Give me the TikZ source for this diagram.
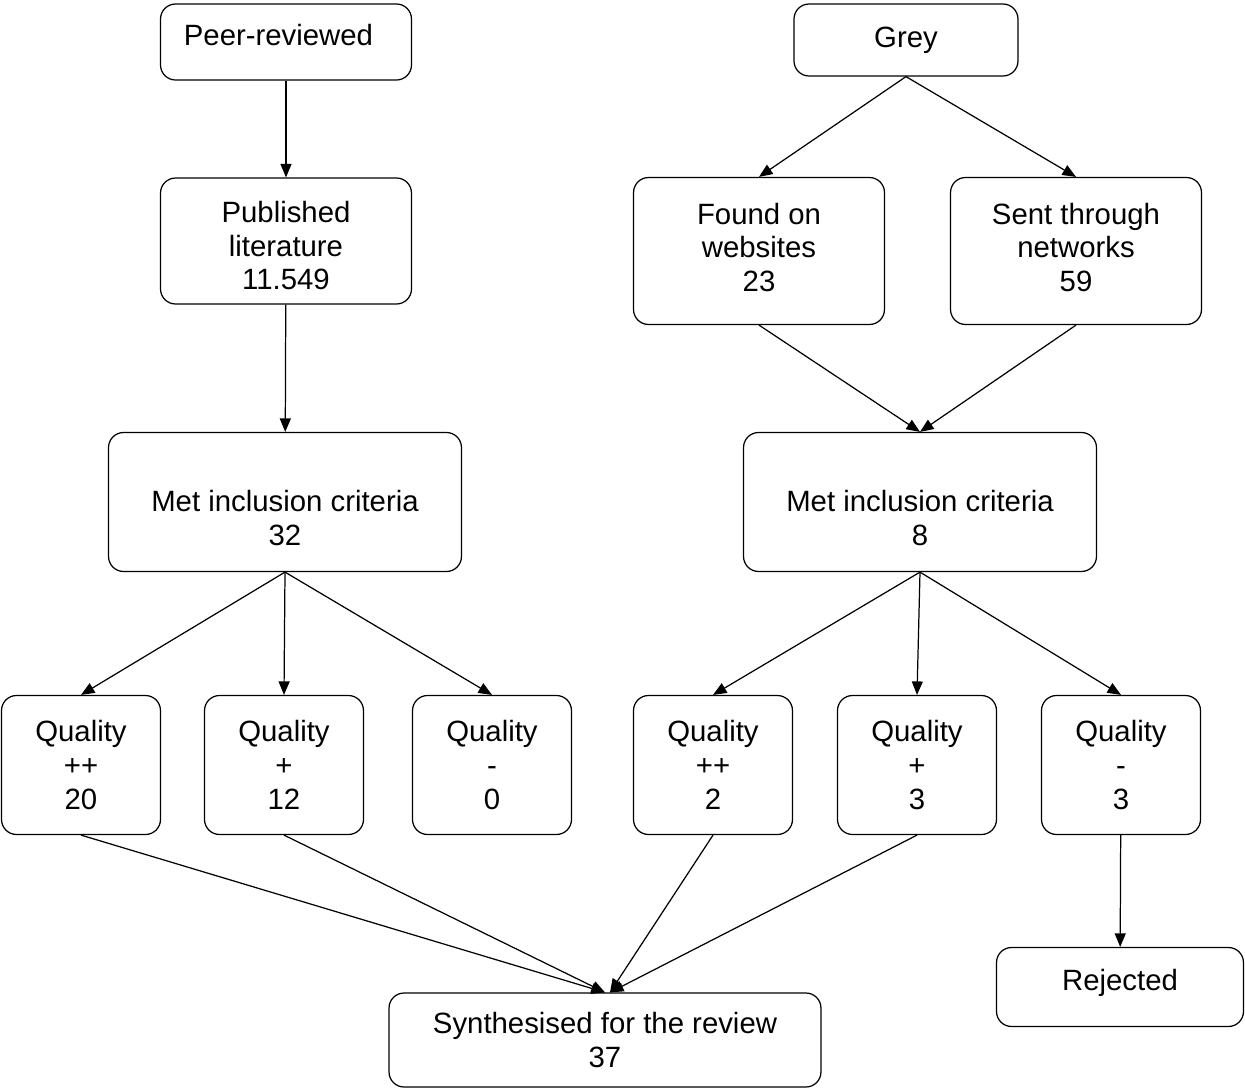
\documentclass[tikz,border=0pt]{standalone}
\usepackage{fontspec}
\setmainfont{Liberation Sans}
\usetikzlibrary{arrows.meta}

\begin{document}
\begin{tikzpicture}[x=0.02cm,y=-0.02cm,->,>={Triangle[length=0.27cm,width=0.22cm]},
	line width=0.7pt,
	base node/.style={rectangle,draw,rounded corners=0.3cm,align=center,inner sep=0pt,
		font=\fontsize{16.7}{19.2}\selectfont},
	quality node/.style={base node,minimum width=3.18cm,minimum height=2.78cm}]
	
	\useasboundingbox (0,0) rectangle (1245,1089);
	% peer-reviewed
	\node[base node,minimum width=5.02cm,minimum height=1.52cm] (peer) at (286,42) {\raisebox{-0.06cm}[0pt][0pt]{Peer-reviewed\hspace{0.3cm}}};
	\node[base node,minimum width=5.02cm,minimum height=2.52cm] (pub) at (286,241) {\raisebox{-0.32cm}[0pt][0pt]{\begin{tabular}{@{}c@{}}Published\\literature\\11.549\end{tabular}}};
	\node[base node,minimum width=7.06cm,minimum height=2.78cm] (met32) at (285,502) {\phantom{M}\\Met inclusion criteria\\32};
	\node[quality node] (q20) at (81,765) {Quality\\++\\20};
	\node[quality node] (q12) at (284,765) {Quality\\+\\12};
	\node[quality node] (q0) at (492,765) {Quality\\-\\0};
	% grey
	\node[base node,minimum width=4.48cm,minimum height=1.44cm] (grey) at (906,40) {Grey};
	\node[base node,minimum width=5.02cm,minimum height=2.94cm] (web) at (759,251) {\raisebox{0.09cm}{\begin{tabular}{@{}c@{}}Found on\\websites\\23\end{tabular}}};
	\node[base node,minimum width=5.02cm,minimum height=2.94cm] (net) at (1076,251) {\raisebox{0.09cm}{\begin{tabular}{@{}c@{}}Sent through\\networks\\59\end{tabular}}};
	\node[base node,minimum width=7.06cm,minimum height=2.78cm] (met8) at (920,502) {\phantom{M}\\Met inclusion criteria\\8};
	\node[quality node] (q2) at (713,765) {Quality\\++\\2};
	\node[quality node] (q3) at (917,765) {Quality\\+\\3};
	\node[quality node] (qm3) at (1121,765) {Quality\\-\\3};
	\node[base node,minimum width=4.94cm,minimum height=1.58cm] (rej) at (1120,987) {\raisebox{-0.06cm}[0pt][0pt]{Rejected}};
	\node[base node,minimum width=8.64cm,minimum height=1.88cm] (synth) at (605,1040) {Synthesised for the review\\37};
	
	\path
	(peer) edge (pub)
	(pub) edge (met32)
	(met32.south) edge (q20.north)
	              edge (q12.north)
	              edge (q0.north)
	(grey.south) edge (web.north)
	             edge (net.north)
	(web.south) edge (met8.north)
	(net.south) edge (met8.north)
	(met8.south) edge (q2.north)
	             edge (q3.north)
	             edge (qm3.north)
	(qm3) edge (rej)
	(q20.south) edge (synth.north)
	(q12.south) edge (synth.north)
	(q2.south) edge ([xshift=0.1cm]synth.north)
	(q3.south) edge ([xshift=0.1cm]synth.north);
\end{tikzpicture}
\end{document}
